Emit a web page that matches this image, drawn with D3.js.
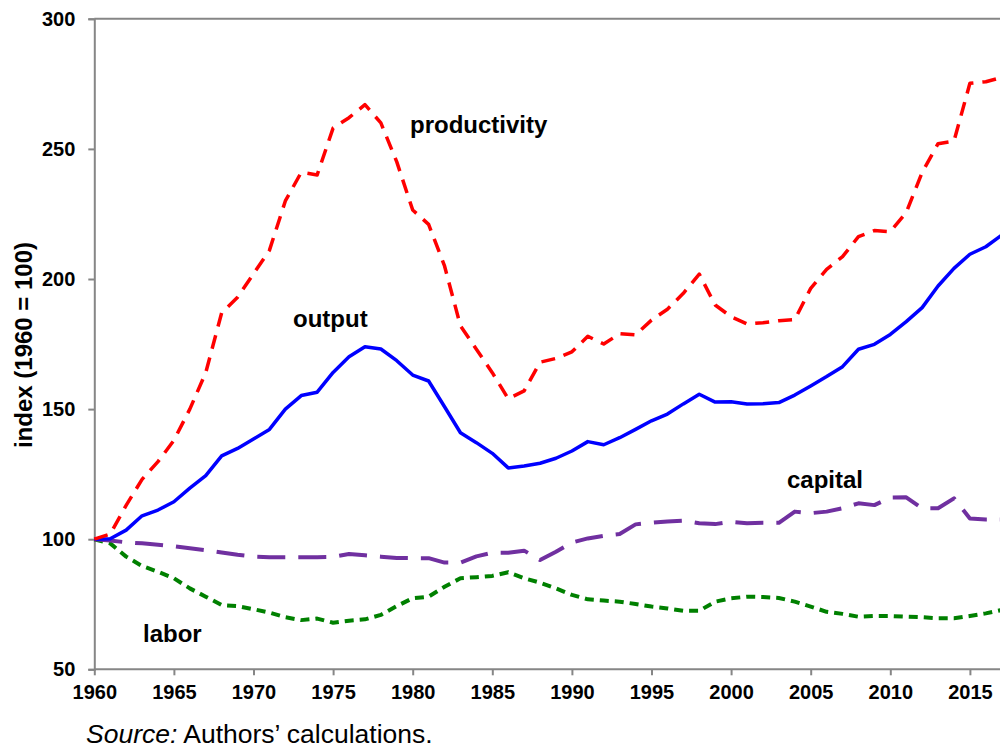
<!DOCTYPE html>
<html>
<head>
<meta charset="utf-8">
<script src="https://cdn.jsdelivr.net/npm/d3@7"></script>
<style>
  html, body { margin: 0; padding: 0; background: #fff; }
  svg { display: block; font-family: Arial, "Liberation Sans", sans-serif; }
</style>
</head>
<body>
<svg id="chart" width="1000" height="748"></svg>
<script>
const years = d3.range(1960, 2018);

const output = [100, 100.2, 103.5, 109, 111.2, 114.4, 119.6, 124.4, 132, 134.9,
  138.5, 142.2, 150, 155.2, 156.5, 164.1, 170.1, 174, 173.1, 168.6,
  163.1, 160.8, 150.9, 140.9, 137.1, 133, 127.4, 128.1, 129.2, 131.1,
  133.9, 137.5, 136.3, 139, 142.2, 145.5, 148.1, 152, 155.7, 152.7,
  152.8, 152, 152.1, 152.5, 155.4, 158.9, 162.5, 166.3, 173, 174.9,
  178.7, 183.6, 189, 197.3, 204.1, 209.5, 212.4, 216.9];

const productivity = [100, 102, 113, 123, 129.8, 138, 150, 164, 187, 193,
  202, 211, 230, 241, 240, 258, 262, 267, 260, 245,
  226.5, 221, 205, 182, 173, 164, 154, 157, 168, 169.5,
  172, 178, 175, 179, 178.5, 184.2, 188.4, 194.5, 201.9, 190,
  185.5, 182.7, 183.2, 184, 184.4, 196.4, 203.7, 208.6, 216.3, 218.6,
  218.2, 225.5, 241, 252, 253, 275.2, 275.8, 277.5];

const capital = [100, 99.5, 98.8, 98.4, 97.9, 97.3, 96.5, 95.8, 94.9, 94,
  93.3, 93.1, 93.1, 93.1, 93.1, 93.2, 94.3, 93.8, 93.3, 92.8,
  92.7, 92.7, 91, 91, 93.4, 94.8, 94.8, 95.6, 92, 95.2,
  98.7, 100.3, 101.3, 102, 105.7, 106.3, 106.8, 107.1, 106.1, 105.8,
  106.7, 106.1, 106.3, 106.3, 110.6, 110, 110.6, 111.9, 113.8, 113.1,
  116, 116.1, 111.9, 111.9, 115.7, 108, 107.6, 107.6];

const labor = [100, 98.4, 93.3, 89.7, 87.5, 85, 81.1, 77.9, 74.7, 74.3,
  73.1, 71.8, 70, 68.9, 69.5, 67.9, 68.7, 69.2, 70.9, 74.3,
  77.3, 77.9, 81.7, 85, 85.4, 85.9, 87.3, 85, 83.3, 81.1,
  78.6, 76.9, 76.4, 76, 75.1, 74.1, 73.4, 72.5, 72.5, 76,
  77.3, 77.9, 77.8, 77.4, 76, 74.1, 72.1, 71.3, 70.2, 70.5,
  70.5, 70.2, 70, 69.6, 69.6, 70.5, 71.5, 72.8];

const yTicks = [50, 100, 150, 200, 250, 300];
const xTicks = [1960, 1965, 1970, 1975, 1980, 1985, 1990, 1995, 2000, 2005, 2010, 2015];

const svg = d3.select("#chart");
const mLeft = 94.3, mTop = 18.8, mBottom = 669.3;
const x = d3.scaleLinear().domain([1960, 2017]).range([mLeft, mLeft + 57 * 15.92]);
const y = d3.scaleLinear().domain([50, 300]).range([mBottom, mTop]);

const axisColor = "#868686";

// top border
svg.append("line").attr("x1", mLeft).attr("x2", 1000).attr("y1", mTop).attr("y2", mTop)
  .attr("stroke", axisColor).attr("stroke-width", 2);

// y axis
const yAxis = svg.append("g").attr("transform", `translate(${mLeft},0)`)
  .call(d3.axisLeft(y).tickValues(yTicks).tickSize(6).tickPadding(13).tickFormat(d3.format("d")));
yAxis.select(".domain").attr("stroke", axisColor).attr("stroke-width", 2);
yAxis.selectAll(".tick line").attr("stroke", axisColor).attr("stroke-width", 2);
yAxis.selectAll("text").attr("font-size", 20).attr("font-weight", "bold")
  .attr("fill", "#000").attr("font-family", "Arial, 'Liberation Sans', sans-serif");

// x axis
const xAxis = svg.append("g").attr("transform", `translate(0,${mBottom})`)
  .call(d3.axisBottom(x).tickValues(xTicks).tickSize(6).tickPadding(10).tickFormat(d3.format("d")));
xAxis.select(".domain").attr("stroke", axisColor).attr("stroke-width", 2)
  .attr("d", `M${mLeft},0H1000`);
xAxis.selectAll(".tick line").attr("stroke", axisColor).attr("stroke-width", 2);
xAxis.selectAll("text").attr("font-size", 20).attr("font-weight", "bold")
  .attr("fill", "#000").attr("font-family", "Arial, 'Liberation Sans', sans-serif");

// y-axis title
svg.append("text")
  .attr("transform", "translate(32,345) rotate(-90)")
  .attr("text-anchor", "middle")
  .attr("font-size", 24).attr("font-weight", "bold")
  .text("index (1960 = 100)");

const series = [
  { name: "labor", values: labor, color: "#008000", dash: "9,6", width: 4 },
  { name: "capital", values: capital, color: "#7030A0", dash: "28,13", width: 4 },
  { name: "output", values: output, color: "#0000FF", dash: null, width: 3.5 },
  { name: "productivity", values: productivity, color: "#FF0000", dash: "14,9", width: 3.5 }
];

const line = d3.line().x((d, i) => x(years[i])).y(d => y(d));

series.forEach(s => {
  const p = svg.append("path").datum(s.values)
    .attr("d", line)
    .attr("fill", "none")
    .attr("stroke", s.color)
    .attr("stroke-width", s.width)
    .attr("stroke-linejoin", "round");
  if (s.dash) p.attr("stroke-dasharray", s.dash);
});

// series labels
const labels = [
  { text: "productivity", x: 410, y: 133 },
  { text: "output", x: 293, y: 327 },
  { text: "capital", x: 787, y: 488 },
  { text: "labor", x: 143, y: 642 }
];
svg.selectAll("text.lbl").data(labels).enter().append("text")
  .attr("class", "lbl")
  .attr("x", d => d.x).attr("y", d => d.y)
  .attr("font-size", 24).attr("font-weight", "bold")
  .text(d => d.text);

// source
const src = svg.append("text").attr("x", 86).attr("y", 743).attr("font-size", 26.5);
src.append("tspan").attr("font-style", "italic").text("Source:");
src.append("tspan").text(" Authors’ calculations.");
</script>
</body>
</html>
